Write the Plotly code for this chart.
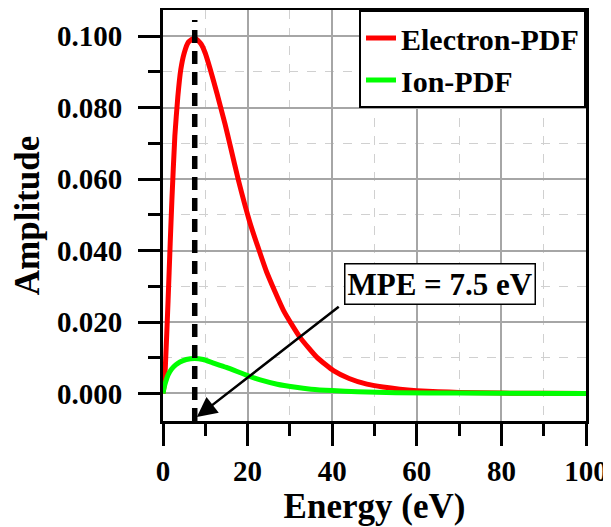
import plotly.graph_objects as go

# ---- data ----
electron_energy = [0, 0.25, 0.55, 1.2, 1.7, 2.1, 2.8, 3.5, 4.2, 5, 6, 7.5, 9, 10, 11.1, 12.8,
                   14.7, 16, 17.8, 20.5, 22.5, 24.5, 28.5, 32.4, 36.4, 40.3, 44, 48.2, 52, 56,
                   60, 65, 70, 80, 90, 100]
electron_pdf = [0, 0.002, 0.0073, 0.026, 0.042, 0.054, 0.072, 0.083, 0.0906, 0.0952, 0.0983,
                0.0995, 0.0978, 0.0952, 0.0910, 0.0838, 0.0752, 0.0688, 0.0598, 0.0480,
                0.0408, 0.0340, 0.0232, 0.0157, 0.0101, 0.0064, 0.0042, 0.0026, 0.0018,
                0.0012, 0.0008, 0.0005, 0.0003, 0.0001, 0.00005, 0.0]

ion_energy = [0, 0.3, 0.6, 1.2, 2, 3, 4, 5.5, 7.5, 9.5, 11.5, 15, 20, 23, 27, 31, 35, 40,
              46, 55, 70, 100]
ion_pdf = [0, 0.0018, 0.0031, 0.0052, 0.0068, 0.0080, 0.0088, 0.0095, 0.0098, 0.0095,
           0.0087, 0.0073, 0.0050, 0.0038, 0.0026, 0.0018, 0.0012, 0.0008, 0.0005,
           0.0002, 0.0001, 0.0]

series_names = ["Electron-PDF", "Ion-PDF"]
series_colors = ["#ff0000", "#00ff00"]

mpe_value = 7.5
mpe_label = "MPE = 7.5 eV"
x_range = [0, 100]
y_range = [-0.0077, 0.1073]
x_ticks = [0, 20, 40, 60, 80, 100]
y_ticks = [0.0, 0.02, 0.04, 0.06, 0.08, 0.10]
y_tick_labels = ["0.000", "0.020", "0.040", "0.060", "0.080", "0.100"]

FONT = "Liberation Serif, Times New Roman, serif"

fig = go.Figure()
fig.add_trace(go.Scatter(x=electron_energy, y=electron_pdf, mode="lines",
                         name=series_names[0],
                         line=dict(color=series_colors[0], width=5, shape="spline", smoothing=0.5)))
fig.add_trace(go.Scatter(x=ion_energy, y=ion_pdf, mode="lines",
                         name=series_names[1],
                         line=dict(color=series_colors[1], width=5, shape="spline", smoothing=0.5)))

# dashed vertical MPE line
fig.add_shape(type="line", xref="x", yref="y", x0=mpe_value, x1=mpe_value,
              y0=y_range[0], y1=0.1045, layer="above",
              line=dict(color="black", width=5.5, dash="13px,8px"))

# arrow (tail at box corner)
fig.add_annotation(x=8.0, y=-0.0066, ax=41.9, ay=0.0246, xref="x", yref="y",
                   axref="x", ayref="y", text="", showarrow=True,
                   arrowhead=2, arrowsize=1.6, arrowwidth=2.5, arrowcolor="black")
# text box
fig.add_annotation(x=65.4, y=0.0307, xref="x", yref="y", text="<b>%s</b>" % mpe_label,
                   showarrow=False, font=dict(family=FONT, size=31, color="black"),
                   bgcolor="white", bordercolor="black", borderwidth=1.5, borderpad=2)

axis_common = dict(
    showline=True, linecolor="black", linewidth=3, mirror=True,
    ticks="outside", ticklen=22, tickwidth=3, tickcolor="black",
    showgrid=True, gridcolor="#a6a6a6", gridwidth=1.5, zeroline=False,
    tickfont=dict(family=FONT, size=29, color="black", weight="bold"),
    automargin=False,
)

fig.update_xaxes(range=x_range, tickvals=x_ticks, **axis_common,
                 minor=dict(dtick=10, ticklen=12, tickwidth=3, tickcolor="black",
                            ticks="outside", showgrid=True, gridcolor="#d0d0d0",
                            griddash="dash", gridwidth=1),
                 title=dict(text="Energy (eV)", standoff=7,
                            font=dict(family=FONT, size=35, color="black", weight="bold")))
fig.update_yaxes(range=y_range, tickvals=y_ticks, ticktext=y_tick_labels, **axis_common,
                 minor=dict(dtick=0.01, tick0=0, ticklen=12, tickwidth=3, tickcolor="black",
                            ticks="outside", showgrid=True, gridcolor="#d0d0d0",
                            griddash="dash", gridwidth=1),
                 title=dict(text="Amplitude", standoff=10,
                            font=dict(family=FONT, size=35, color="black", weight="bold")),
                 ticklabelstandoff=10)

# the page body adds an 8 px offset, so margins are reduced by 8 on the left/top
fig.update_layout(
    width=611, height=527,
    margin=dict(l=155, r=33, t=2, b=114),
    paper_bgcolor="white", plot_bgcolor="white",
    showlegend=True,
    legend=dict(x=1, y=1, xanchor="right", yanchor="top",
                bgcolor="white", bordercolor="black", borderwidth=2,
                font=dict(family=FONT, size=30, color="black", weight="bold"),
                tracegroupgap=0, itemwidth=30),
)

fig.write_html("out.html", config={"displayModeBar": False})
